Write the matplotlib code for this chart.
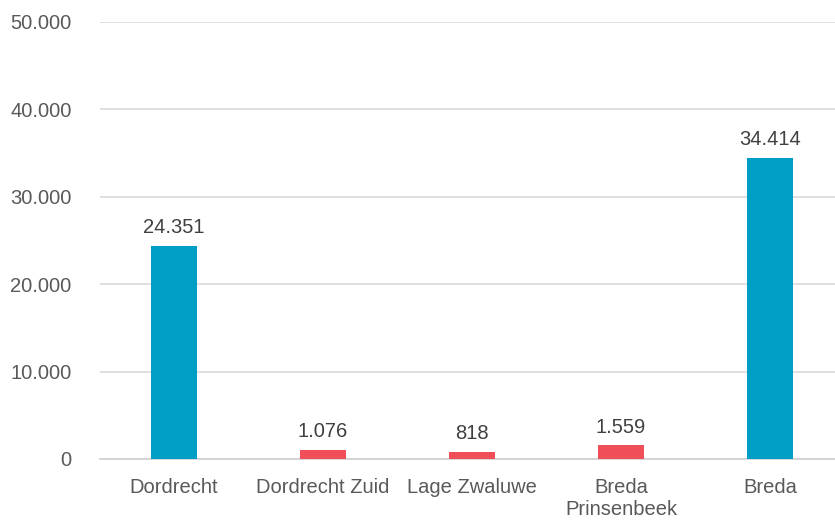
import matplotlib.pyplot as plt

categories = ['Dordrecht', 'Dordrecht Zuid', 'Lage Zwaluwe', 'Breda\nPrinsenbeek', 'Breda']
values = [24351, 1076, 818, 1559, 34414]
highlight = [True, False, False, False, True]
y_ticks = [0, 10000, 20000, 30000, 40000, 50000]

teal = '#009DC5'
red = '#F04E58'

plt.rcParams['font.family'] = ['Liberation Sans', 'DejaVu Sans']


def fmt(v):
    return f'{v:,}'.replace(',', '.')


fig = plt.figure(figsize=(8.35, 5.2), dpi=100)
ax = fig.add_axes([99.5 / 835, 61 / 520, 745 / 835, 437 / 520])

x = list(range(len(categories)))
colors = [teal if h else red for h in highlight]
bars = ax.bar(x, values, width=0.31, color=colors, zorder=3)

for xi, v in zip(x, values):
    ax.text(xi, v + 1000, fmt(v), ha='center', va='bottom', fontsize=14.5, color='#404040')

ax.set_xlim(-0.5, len(categories) - 0.5)
ax.set_ylim(0, 50000)
ax.set_yticks(y_ticks)
ax.set_yticklabels([fmt(t) for t in y_ticks])
ax.set_xticks(x)
ax.set_xticklabels(categories, linespacing=1.2)

ax.grid(axis='y', color='#D9D9D9', linewidth=1.2, zorder=0)
for s in ['top', 'right', 'left']:
    ax.spines[s].set_visible(False)
ax.spines['bottom'].set_color('#D0D0D0')
ax.spines['bottom'].set_linewidth(1.2)
ax.tick_params(axis='both', length=0, labelsize=14.5, labelcolor='#595959')
ax.tick_params(axis='y', pad=20)
ax.tick_params(axis='x', pad=14)

fig.savefig('out.png', dpi=100)
